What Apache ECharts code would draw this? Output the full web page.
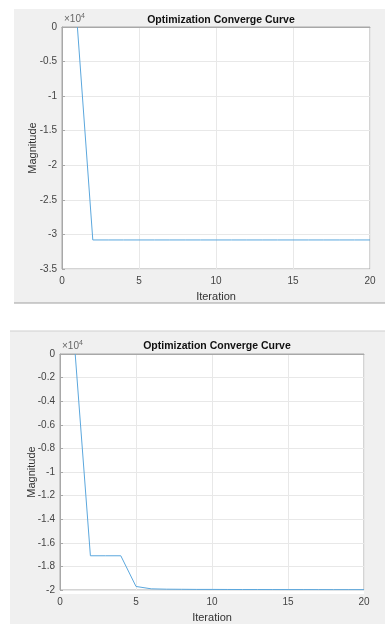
<!DOCTYPE html>
<html>
<head>
<meta charset="utf-8">
<script src="https://cdn.jsdelivr.net/npm/echarts@6/dist/echarts.min.js"></script>
<style>
html,body{margin:0;padding:0;background:#ffffff;}
#chart{width:385px;height:624px;}
</style>
</head>
<body>
<div id="chart"></div>
<script>
// ---- data ----
const iterations = [1,2,3,4,5,6,7,8,9,10,11,12,13,14,15,16,17,18,19,20];
const topValues = [0,-30800,-30800,-30800,-30800,-30800,-30800,-30800,-30800,-30800,-30800,-30800,-30800,-30800,-30800,-30800,-30800,-30800,-30800,-30800];
const bottomValues = [0,-17100,-17100,-17100,-19700,-19900,-19930,-19940,-19950,-19950,-19955,-19960,-19960,-19962,-19965,-19965,-19968,-19970,-19970,-19970];
const titleText = 'Optimization Converge Curve';
const xName = 'Iteration';
const yName = 'Magnitude';
const xTicks = {min:0, max:20, interval:5};
const topYTicks = {min:-35000, max:0, interval:5000};
const bottomYTicks = {min:-20000, max:0, interval:2000};
const scaleFactor = 1e4;

const FONT = 'Liberation Sans, Arial, Helvetica, sans-serif';
const chart = echarts.init(document.getElementById('chart'), null, {renderer:'canvas'});

const grids = [
  {left:62, top:27, width:308, height:242},
  {left:60, top:354, width:304, height:240}
];

function xAxisDef(gi){
  return {
    type:'value', gridIndex:gi, min:xTicks.min, max:xTicks.max, interval:xTicks.interval,
    name:xName, nameLocation:'middle', nameGap:22, nameMoveOverlap:false,
    nameTextStyle:{color:'#333', fontSize:11, fontFamily:FONT},
    axisLine:{show:true, lineStyle:{color:'#a8a8a8', width:1}},
    axisTick:{show:false},
    axisLabel:{color:'#444', fontSize:10, fontFamily:FONT, margin:7},
    splitLine:{show:true, lineStyle:{color:'#e8e8e8', width:1}}
  };
}
function yAxisDef(gi, t, gap){
  return {
    type:'value', gridIndex:gi, min:t.min, max:t.max, interval:t.interval,
    name:yName, nameLocation:'middle', nameGap:gap, nameMoveOverlap:false,
    nameTextStyle:{color:'#333', fontSize:11, fontFamily:FONT},
    axisLine:{show:true, lineStyle:{color:'#a8a8a8', width:1}},
    axisTick:{show:true, inside:true, length:3, lineStyle:{color:'#a8a8a8'}},
    axisLabel:{color:'#444', fontSize:10, fontFamily:FONT, margin:5,
      formatter:function(v){ return String(Math.round(v/scaleFactor*100)/100); }},
    splitLine:{show:true, lineStyle:{color:'#e8e8e8', width:1}}
  };
}

const supRich = {a:{fontSize:10, fill:'#666', fontFamily:FONT}, b:{fontSize:7, fill:'#666', fontFamily:FONT, verticalAlign:'top', padding:[0,0,6,0]}};

const option = {
  animation:false,
  backgroundColor:'#ffffff',
  graphic:[
    {type:'rect', z:-10, silent:true, shape:{x:14,y:9,width:371,height:294}, style:{fill:'#f0f0f0'}},
    {type:'line', z:-9, silent:true, shape:{x1:14,y1:303,x2:385,y2:303}, style:{stroke:'#a0a0a0', lineWidth:1}},
    {type:'rect', z:-10, silent:true, shape:{x:10,y:331,width:375,height:293}, style:{fill:'#f0f0f0'}},
    {type:'line', z:-9, silent:true, shape:{x1:10,y1:331,x2:385,y2:331}, style:{stroke:'#cfcfcf', lineWidth:1}},
    {type:'rect', z:-5, silent:true, shape:{x:62,y:27,width:308,height:242}, style:{fill:'#ffffff'}},
    {type:'rect', z:-5, silent:true, shape:{x:60,y:354,width:304,height:240}, style:{fill:'#ffffff'}},
    {type:'text', left:64, top:13, silent:true, style:{text:'{a|×10}{b|4}', rich:supRich}},
    {type:'text', left:62, top:340, silent:true, style:{text:'{a|×10}{b|4}', rich:supRich}}
  ],
  title:[
    {text:titleText, left:216, top:10, textAlign:'center', textStyle:{fontSize:10.5, fontWeight:'bold', color:'#111', fontFamily:FONT}},
    {text:titleText, left:212, top:336, textAlign:'center', textStyle:{fontSize:10.5, fontWeight:'bold', color:'#111', fontFamily:FONT}}
  ],
  grid:grids.map(g=>Object.assign({show:true, borderColor:'#a8a8a8', borderWidth:1, backgroundColor:'transparent'}, g)),
  xAxis:[xAxisDef(0), xAxisDef(1)],
  yAxis:[yAxisDef(0, topYTicks, 24), yAxisDef(1, bottomYTicks, 23)],
  series:[
    {type:'line', xAxisIndex:0, yAxisIndex:0, data:iterations.map((x,i)=>[x, topValues[i]]),
      showSymbol:false, clip:true, lineStyle:{color:'#5ba7dd', width:1}},
    {type:'line', xAxisIndex:1, yAxisIndex:1, data:iterations.map((x,i)=>[x, bottomValues[i]]),
      showSymbol:false, clip:true, lineStyle:{color:'#5ba7dd', width:1}}
  ]
};
chart.setOption(option);
</script>
</body>
</html>
